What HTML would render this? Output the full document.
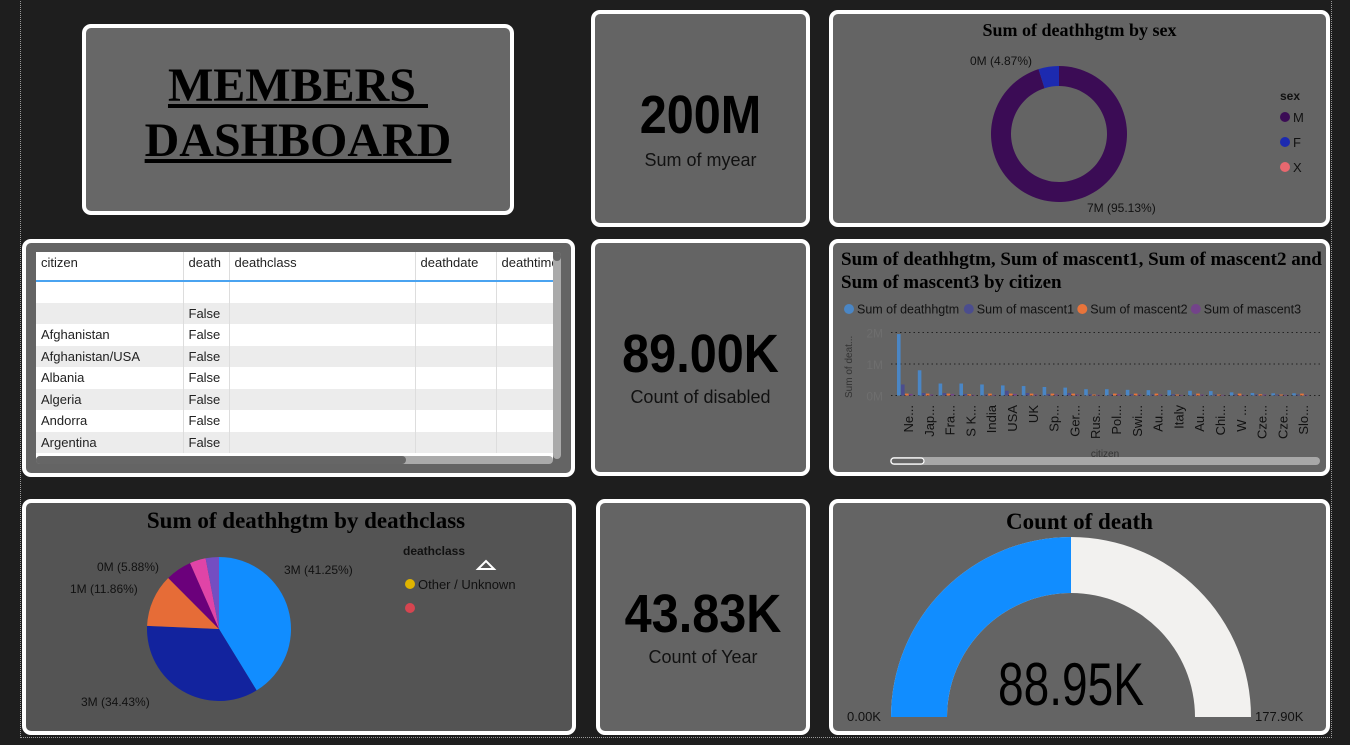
<!DOCTYPE html>
<html><head><meta charset="utf-8">
<style>
*{box-sizing:border-box;margin:0;padding:0}
body{width:1350px;height:745px;background:#1e1e1e;position:relative;overflow:hidden;font-family:"Segoe UI","Liberation Sans",sans-serif}
.frame{position:absolute;left:20px;top:-2px;width:1312px;height:740px;border:1px dotted #9a9a9a}
.card{position:absolute;border:4px solid #fff;border-radius:9px;background:#646464}
.ser{font-family:"Liberation Serif",serif;font-weight:bold;color:#000}
.kpi{position:absolute;width:100%;text-align:center;color:#000}
.big{font-family:"Liberation Sans",sans-serif;font-size:54px;font-weight:bold;transform:scaleX(0.9)}
.lab{font-size:18px;color:#111}
table{border-collapse:collapse;font-size:13px;color:#222}
td{height:21.5px;padding:0 5px;border-right:1px solid #ddd;white-space:nowrap;overflow:hidden}
</style></head><body>
<div class="frame"></div>

<div class="card" style="left:82px;top:24px;width:432px;height:191px;background:#676767">
 <div class="ser" style="position:absolute;top:30px;width:100%;text-align:center;font-size:48px;line-height:55px;text-decoration:underline">MEMBERS&nbsp;<br>DASHBOARD</div>
</div>

<div class="card" style="left:591px;top:10px;width:219px;height:217px">
 <div class="kpi big" style="top:70px">200M</div>
 <div class="kpi lab" style="top:136px">Sum of myear</div>
</div>

<div class="card" style="left:591px;top:239px;width:219px;height:237px">
 <div class="kpi big" style="top:80px">89.00K</div>
 <div class="kpi lab" style="top:144px">Count of disabled</div>
</div>

<div class="card" style="left:596px;top:499px;width:214px;height:236px">
 <div class="kpi big" style="top:80px">43.83K</div>
 <div class="kpi lab" style="top:144px">Count of Year</div>
</div>

<!-- Donut -->
<div class="card" style="left:829px;top:10px;width:501px;height:217px">
 <div class="ser" style="position:absolute;top:6px;width:100%;text-align:center;font-size:18px">Sum of deathhgtm by sex</div>
 <svg id="donut" width="493" height="209" style="position:absolute;left:0;top:0"></svg>
</div>

<!-- Table -->
<div class="card" style="left:22px;top:239px;width:553px;height:238px">
 <div style="position:absolute;left:10px;top:9px;width:517px;height:208px;background:#fff;overflow:hidden">
  <table style="width:560px;table-layout:fixed">
   <colgroup><col style="width:147px"><col style="width:46px"><col style="width:186px"><col style="width:81px"><col style="width:100px"></colgroup>
   <tr style="height:29px;border-bottom:2px solid #4aa3f0"><td style="height:29px;vertical-align:top;padding-top:3px">citizen</td><td style="vertical-align:top;padding-top:3px">death</td><td style="vertical-align:top;padding-top:3px">deathclass</td><td style="vertical-align:top;padding-top:3px">deathdate</td><td style="vertical-align:top;padding-top:3px">deathtime</td></tr>
   <tr><td></td><td></td><td></td><td></td><td></td></tr>
   <tr style="background:#ececec"><td></td><td>False</td><td></td><td></td><td></td></tr>
   <tr><td>Afghanistan</td><td>False</td><td></td><td></td><td></td></tr>
   <tr style="background:#ececec"><td>Afghanistan/USA</td><td>False</td><td></td><td></td><td></td></tr>
   <tr><td>Albania</td><td>False</td><td></td><td></td><td></td></tr>
   <tr style="background:#ececec"><td>Algeria</td><td>False</td><td></td><td></td><td></td></tr>
   <tr><td>Andorra</td><td>False</td><td></td><td></td><td></td></tr>
   <tr style="background:#ececec"><td>Argentina</td><td>False</td><td></td><td></td><td></td></tr>
  </table>
 </div>
 <div style="position:absolute;left:527px;top:9px;width:8px;height:207px;background:#aaa;border-radius:4px"><div style="width:8px;height:9px;background:#666;border-radius:4px"></div></div>
 <div style="position:absolute;left:10px;top:213px;width:517px;height:8px;background:#aaa;border-radius:4px"><div style="width:370px;height:8px;background:#666;border-radius:4px"></div></div>
</div>

<!-- Bar chart -->
<div class="card" style="left:829px;top:239px;width:501px;height:237px">
 <div class="ser" style="position:absolute;left:8px;top:5px;font-size:19px;line-height:23px;white-space:nowrap">Sum of deathhgtm, Sum of mascent1, Sum of mascent2 and<br>Sum of mascent3 by citizen</div>
 <svg id="bars" width="493" height="229" style="position:absolute;left:0;top:0"></svg>
</div>

<!-- Pie -->
<div class="card" style="left:22px;top:499px;width:554px;height:236px;background:#545454">
 <div class="ser" style="position:absolute;left:0;top:5px;width:560px;text-align:center;font-size:23px">Sum of deathhgtm by deathclass</div>
 <svg id="pie" width="546" height="228" style="position:absolute;left:0;top:0"></svg>
</div>

<!-- Gauge -->
<div class="card" style="left:829px;top:499px;width:501px;height:236px">
 <div class="ser" style="position:absolute;top:6px;width:100%;text-align:center;font-size:23px">Count of death</div>
 <svg id="gauge" width="493" height="228" style="position:absolute;left:0;top:0"></svg>
</div>

<script>
const NS="http://www.w3.org/2000/svg";
function mk(p,t,a){const e=document.createElementNS(NS,t);for(const k in a)e.setAttribute(k,a[k]);p.appendChild(e);return e;}
function arc(cx,cy,r,a0,a1,ri){const p=(r,a)=>[cx+r*Math.sin(a),cy-r*Math.cos(a)];const L=(a1-a0)>Math.PI?1:0;
 const [x0,y0]=p(r,a0),[x1,y1]=p(r,a1);
 if(ri){const [x2,y2]=p(ri,a1),[x3,y3]=p(ri,a0);return `M${x0},${y0}A${r},${r} 0 ${L} 1 ${x1},${y1}L${x2},${y2}A${ri},${ri} 0 ${L} 0 ${x3},${y3}Z`;}
 return `M${cx},${cy}L${x0},${y0}A${r},${r} 0 ${L} 1 ${x1},${y1}Z`;}

// ---- Donut data
const sexCats=["M","F","X"];
const sexVals=[95.13,4.87,0];
const sexColors=["#3b0c55","#1c2ab0","#e8686f"];
const sexLabels=["7M (95.13%)","0M (4.87%)",""];
(function(){const s=document.getElementById('donut');const cx=226,cy=120;let a=0;const tot=sexVals.reduce((x,y)=>x+y,0);
 sexVals.forEach((v,i)=>{if(!v)return;const a1=a+v/tot*2*Math.PI;const el=mk(s,'path',{d:arc(cx,cy,68,a,a1,48),fill:sexColors[i]});
 
 a=a1;});
 const t1=mk(s,'text',{x:254,y:198,'font-size':12,fill:'#111'});t1.textContent=sexLabels[0];
 
 
 const t2=mk(s,'text',{x:137,y:51,'font-size':12,fill:'#111'});t2.textContent=sexLabels[1];
 
 
 const lt=mk(s,'text',{x:447,y:86,'font-size':12,'font-weight':'bold',fill:'#111'});lt.textContent='sex';
 
 
 sexCats.forEach((c,i)=>{const y=103+i*25;mk(s,'circle',{cx:452,cy:y,r:5,fill:sexColors[i]});const t=mk(s,'text',{x:460,y:y+5,'font-size':13,fill:'#111'});t.textContent=c;
 
 });
})();

// ---- Bar chart data
const cities=["Ne...","Jap...","Fra...","S K...","India","USA","UK","Sp...","Ger...","Rus...","Pol...","Swi...","Au...","Italy","Au...","Chi...","W ...","Cze...","Cze...","Slo..."];
const deathhgtm=[1.95,0.8,0.38,0.38,0.35,0.32,0.3,0.27,0.25,0.2,0.2,0.18,0.17,0.17,0.15,0.14,0.1,0.08,0.07,0.07];
const mascent1=[0.35,0.08,0.08,0.05,0.03,0.15,0.08,0.05,0.08,0.04,0.03,0.04,0.03,0.04,0.03,0.03,0.03,0.03,0.03,0.03];
const mascent2=[0.06,0.06,0.06,0.04,0.06,0.06,0.06,0.06,0.06,0.03,0.06,0.06,0.06,0.03,0.06,0.03,0.06,0.04,0.03,0.06];
const mascent3=[0.05,0.03,0.05,0.02,0.02,0.05,0.03,0.03,0.03,0.02,0.04,0.03,0.03,0.02,0.03,0.02,0.02,0.03,0.02,0.02];
const yTicks=[0,1,2];
const yTickLabels=["0M","1M","2M"];
const barSeries=["Sum of deathhgtm","Sum of mascent1","Sum of mascent2","Sum of mascent3"];
(function(){const s=document.getElementById('bars');const colors=["#4a86c5","#4b4d8e","#e8743b","#73438a"];
 const x0=64,step=20.8,base=152.5,scale=31.5;const Y=v=>base-v*scale;
 let lx=10;barSeries.forEach((n,i)=>{mk(s,'circle',{cx:lx+6,cy:66,r:5,fill:colors[i]});const t=mk(s,'text',{x:lx+14,y:70.5,'font-size':12.5,fill:'#111'});t.textContent=n;
 
 lx+=14+n.length*6.3+5;});
 yTicks.forEach((v,i)=>{mk(s,'line',{x1:58,x2:488,y1:Y(v),y2:Y(v),stroke:'#222','stroke-dasharray':'1.5,3'});const t=mk(s,'text',{x:50,y:Y(v)+5,'font-size':12,fill:'#6e6e6e','text-anchor':'end'});t.textContent=yTickLabels[i];
 
 });
 const yt=mk(s,'text',{x:0,y:0,'font-size':10,fill:'#333',transform:'translate(19,155) rotate(-90)'});yt.textContent='Sum of deat...';
 
 
 const data=[deathhgtm,mascent1,mascent2,mascent3];
 cities.forEach((c,i)=>{const gx=x0+i*step;data.forEach((arr,j)=>{const v=arr[i];const b=mk(s,'rect',{x:gx+j*4,y:Y(v),width:3.6,height:v*scale,fill:colors[j]});
 
 });
 const t=mk(s,'text',{x:0,y:0,'font-size':13,fill:'#111','text-anchor':'end',transform:`translate(${gx+16},${162}) rotate(-90)`});t.textContent=c;
 
 });
 const xt=mk(s,'text',{x:272,y:214,'font-size':10,fill:'#333','text-anchor':'middle'});xt.textContent='citizen';
 
 
 const sb=mk(s,'rect',{x:57,y:214,width:430,height:8,rx:4,fill:'#a8a8a8'});
 
 
 mk(s,'rect',{x:58,y:215,width:33,height:6,rx:3,fill:'#666',stroke:'#fff','stroke-width':1.2});
})();

// ---- Pie data
const classVals=[41.25,34.43,11.86,5.88,3.6,2.98];
const classLabels=["3M (41.25%)","3M (34.43%)","1M (11.86%)","0M (5.88%)","",""];
const classColors=["#118dff","#12239e","#e66c37","#6b007b","#e044a7","#744ec2"];
(function(){const s=document.getElementById('pie');const cx=193,cy=126,r=72;let a=0;const tot=classVals.reduce((x,y)=>x+y,0);
 classVals.forEach((v,i)=>{const a1=a+v/tot*2*Math.PI;const el=mk(s,'path',{d:arc(cx,cy,r,a,a1),fill:classColors[i]});
 
 a=a1;});
 const pos=[[258,71],[55,203],[44,90],[71,68]];
 pos.forEach((p,i)=>{const t=mk(s,'text',{x:p[0],y:p[1],'font-size':12,fill:'#111'});t.textContent=classLabels[i];
 
 });
 const lt=mk(s,'text',{x:377,y:52,'font-size':12,'font-weight':'bold',fill:'#111'});lt.textContent='deathclass';
 
 
 mk(s,'path',{d:'M452,66 L460,58 L468,66 Z',fill:'none',stroke:'#fff','stroke-width':2});
 mk(s,'circle',{cx:384,cy:81,r:5,fill:'#e0b400'});
 const l1=mk(s,'text',{x:392,y:86,'font-size':13,fill:'#111'});l1.textContent='Other / Unknown';
 
 
 mk(s,'circle',{cx:384,cy:105,r:5,fill:'#d64550'});
})();

// ---- Gauge data
const gaugeValue=[88.95];
const gaugeMax=[177.9];
(function(){const s=document.getElementById('gauge');const cx=238,cy=214,R=180,ri=124;
 const bg=mk(s,'path',{d:arc(cx,cy,R,-Math.PI/2,Math.PI/2,ri),fill:'#f2f1ef'});
 
 
 const f=gaugeValue[0]/gaugeMax[0];
 const fg=mk(s,'path',{d:arc(cx,cy,R,-Math.PI/2,-Math.PI/2+f*Math.PI,ri),fill:'#118dff'});
 
 
 const v=mk(s,'text',{x:cx-73,y:202,'font-size':60,fill:'#000',textLength:146,lengthAdjust:'spacingAndGlyphs','font-family':'"Liberation Sans",sans-serif'});v.textContent=gaugeValue[0].toFixed(2)+'K';
 
 
 const mn=mk(s,'text',{x:14,y:218,'font-size':13,fill:'#111'});mn.textContent='0.00K';
 
 
 const mx=mk(s,'text',{x:422,y:218,'font-size':13,fill:'#111'});mx.textContent=gaugeMax[0].toFixed(2)+'K';
 
 
})();
</script>
</body></html>
